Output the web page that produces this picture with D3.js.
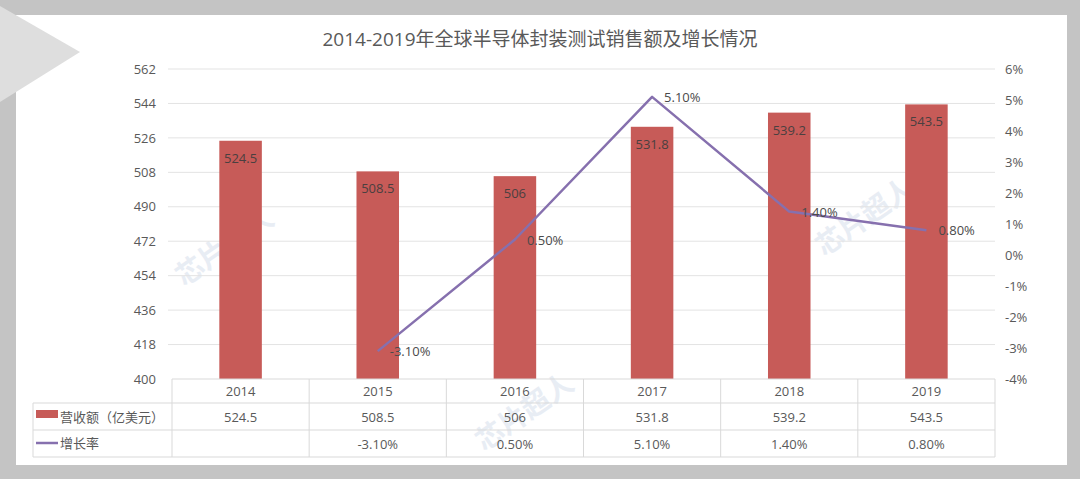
<!DOCTYPE html>
<html>
<head>
<meta charset="utf-8">
<script src="https://cdn.jsdelivr.net/npm/d3@7"></script>
<style>
  html, body { margin: 0; padding: 0; background: #c4c4c4; }
  svg { display: block; font-family: "Open Sans", "Noto Sans CJK SC", sans-serif; }
</style>
</head>
<body>
<svg id="chart" width="1080" height="479"></svg>
<script>
// chart data
var years = ["2014", "2015", "2016", "2017", "2018", "2019"];
var revenue = [524.5, 508.5, 506, 531.8, 539.2, 543.5];
var growth = [null, -3.1, 0.5, 5.1, 1.4, 0.8];
var leftTicks = [400, 418, 436, 454, 472, 490, 508, 526, 544, 562];
var rightTicks = [-4, -3, -2, -1, 0, 1, 2, 3, 4, 5, 6];
var seriesNames = ["营收额（亿美元）", "增长率"];
var title = "2014-2019年全球半导体封装测试销售额及增长情况";

var barColor = "#c75b58";
var lineColor = "#8670ae";
var textColor = "#595959";

var svg = d3.select("#chart");

// card background
svg.append("rect").attr("x", 0).attr("y", 0).attr("width", 1080).attr("height", 479).attr("fill", "#c4c4c4");
svg.append("rect").attr("x", 16).attr("y", 15).attr("width", 1051).attr("height", 450).attr("fill", "#ffffff");
svg.append("polygon").attr("points", "0,6 80,52 0,102").attr("fill", "#dedede");

// faint watermarks
var wm = [[230, 255, "芯片超人"], [870, 225, "芯片超人"], [530, 420, "芯片超人"]];
wm.forEach(function(w) {
    svg.append("text").attr("transform", "translate(" + w[0] + "," + w[1] + ") rotate(-35)")
        .attr("text-anchor", "middle").attr("font-size", 28).attr("font-weight", "bold")
        .attr("fill", "#c8d3e6").attr("opacity", 0.4).text(w[2]);
});

var x0 = 172, x1 = 995, yTop = 69, yBot = 379;

var x = d3.scaleBand().domain(years).range([x0, x1]).paddingInner(0.69).paddingOuter(0.345);
var xc = d3.scaleBand().domain(years).range([x0, x1]);
var yL = d3.scaleLinear().domain([400, 562]).range([yBot, yTop]);
var yR = d3.scaleLinear().domain([-4, 6]).range([yBot, yTop]);

// title
svg.append("text").attr("x", 540).attr("y", 46).attr("text-anchor", "middle")
    .attr("font-size", 19).attr("fill", textColor).text(title);

// gridlines
svg.append("g").selectAll("line").data(leftTicks.slice(1)).enter().append("line")
    .attr("x1", 168).attr("x2", x1).attr("y1", function(d) { return yL(d); }).attr("y2", function(d) { return yL(d); })
    .attr("stroke", "#e3e3e3").attr("stroke-width", 1);

// left axis
var axL = svg.append("g").attr("transform", "translate(" + 166 + ",0)")
    .call(d3.axisLeft(yL).tickValues(leftTicks).tickSize(0).tickPadding(10));
axL.select(".domain").remove();
axL.selectAll("text").attr("font-size", 13).attr("fill", textColor).attr("font-family", "Open Sans, sans-serif");

// right axis
var axR = svg.append("g").attr("transform", "translate(" + 1000 + ",0)")
    .call(d3.axisRight(yR).tickValues(rightTicks).tickSize(0).tickPadding(5).tickFormat(function(d) { return d + "%"; }));
axR.select(".domain").remove();
axR.selectAll("text").attr("font-size", 13).attr("fill", textColor).attr("font-family", "Open Sans, sans-serif");

// bars
svg.append("g").selectAll("rect").data(revenue).enter().append("rect")
    .attr("x", function(d, i) { return x(years[i]); })
    .attr("y", function(d) { return yL(d); })
    .attr("width", x.bandwidth())
    .attr("height", function(d) { return yBot - yL(d); })
    .attr("fill", barColor);

svg.append("g").selectAll("text").data(revenue).enter().append("text")
    .attr("x", function(d, i) { return x(years[i]) + x.bandwidth() / 2; })
    .attr("y", function(d) { return yL(d) + 22; })
    .attr("text-anchor", "middle").attr("font-size", 13).attr("fill", "#4a4040")
    .text(function(d) { return d; });

// growth line
var pts = growth.map(function(d, i) { return {y: years[i], v: d}; }).filter(function(d) { return d.v !== null; });
var line = d3.line()
    .x(function(d) { return xc(d.y) + xc.bandwidth() / 2; })
    .y(function(d) { return yR(d.v); });
svg.append("path").datum(pts).attr("d", line).attr("fill", "none")
    .attr("stroke", lineColor).attr("stroke-width", 2.5).attr("stroke-linejoin", "round");

svg.append("g").selectAll("text").data(pts).enter().append("text")
    .attr("x", function(d) { return xc(d.y) + xc.bandwidth() / 2 + 12; })
    .attr("y", function(d) { return yR(d.v) + 5; })
    .attr("font-size", 13).attr("fill", "#4a4a4a")
    .text(function(d) { return d.v.toFixed(2) + "%"; });

// data table
var tLeft = 33, rows = [379, 403, 430, 457];
var tg = svg.append("g").attr("stroke", "#d9d9d9").attr("stroke-width", 1);
tg.append("line").attr("x1", x0).attr("x2", x1).attr("y1", rows[0]).attr("y2", rows[0]);
[1, 2, 3].forEach(function(r) {
    tg.append("line").attr("x1", tLeft).attr("x2", x1).attr("y1", rows[r]).attr("y2", rows[r]);
});
tg.append("line").attr("x1", tLeft).attr("x2", tLeft).attr("y1", rows[1]).attr("y2", rows[3]);
years.forEach(function(yr) {
    tg.append("line").attr("x1", xc(yr)).attr("x2", xc(yr)).attr("y1", rows[0]).attr("y2", rows[3]);
});
tg.append("line").attr("x1", x1).attr("x2", x1).attr("y1", rows[0]).attr("y2", rows[3]);

function cellText(txt, cx, cy) {
    svg.append("text").attr("x", cx).attr("y", cy).attr("text-anchor", "middle")
        .attr("font-size", 13).attr("fill", textColor).text(txt);
}
years.forEach(function(yr, i) {
    var cx = xc(yr) + xc.bandwidth() / 2;
    cellText(yr, cx, 396);
    cellText(revenue[i], cx, 422);
    if (growth[i] !== null) cellText(growth[i].toFixed(2) + "%", cx, 449);
});

// row legends
svg.append("rect").attr("x", 36).attr("y", 410).attr("width", 22).attr("height", 8).attr("fill", barColor);
svg.append("text").attr("x", 60).attr("y", 422).attr("font-size", 13).attr("fill", textColor).text(seriesNames[0]);
svg.append("line").attr("x1", 36).attr("x2", 58).attr("y1", 443).attr("y2", 443).attr("stroke", lineColor).attr("stroke-width", 2.5);
svg.append("text").attr("x", 60).attr("y", 448).attr("font-size", 13).attr("fill", textColor).text(seriesNames[1]);
</script>
</body>
</html>
